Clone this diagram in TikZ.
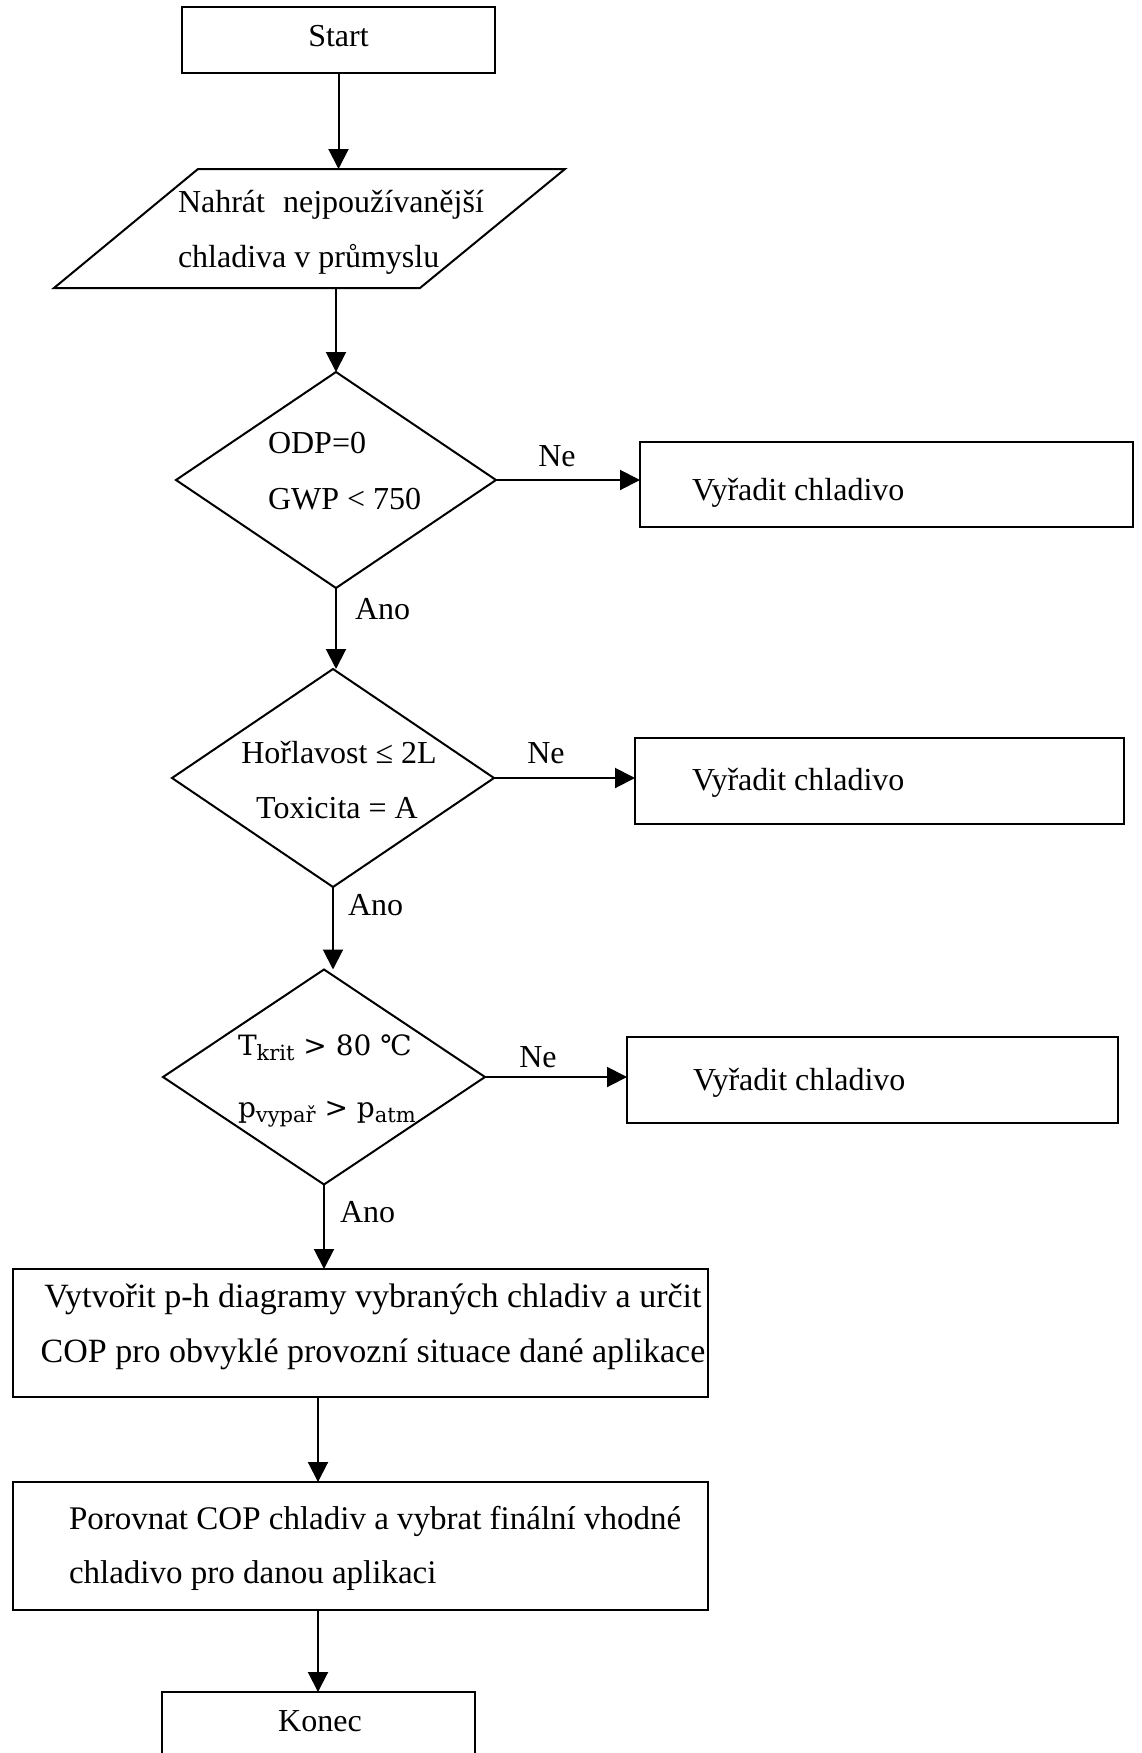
\documentclass[tikz,border=0pt]{standalone}
\usepackage{fontspec}
\setmainfont{Liberation Serif}
\newfontfamily\dvserif{DejaVu Serif}
\usetikzlibrary{shapes.geometric,arrows.meta}
\begin{document}
\begin{tikzpicture}[x=1pt,y=-1pt,
  shapebox/.style={draw, line width=2pt, inner sep=0pt, outer sep=0pt},
  decision/.style={shapebox, diamond},
  txt/.style={font=\fontsize{32}{38}\selectfont, inner sep=0pt, outer sep=0pt},
  bigtxt/.style={font=\fontsize{34}{40}\selectfont, inner sep=0pt, outer sep=0pt},
  midtxt/.style={font=\fontsize{33}{40}\selectfont, inner sep=0pt, outer sep=0pt},
  mtxt/.style={font=\dvserif\fontsize{28}{32}\selectfont, inner sep=0pt, outer sep=0pt},
  arr/.style={line width=2pt, -{Triangle[length=20pt,width=20pt]}}]
\useasboundingbox (0,0) rectangle (1142,1753);
\clip (0,0) rectangle (1142,1753);
\fill[white] (0,0) rectangle (1142,1753);

% nodes
\node[shapebox, minimum width=313pt, minimum height=66pt] (start) at (338.5,40) {};
\node[txt, anchor=base] (startt) at (338.5,47) {Start};

% input parallelogram (invisible anchor node + outline)
\node[inner sep=0pt, outer sep=0pt, minimum width=1pt, minimum height=119pt] (input) at (309.5,228.5) {};
\draw[line width=2pt, line join=miter] (54,288) -- (198,169) -- (565,169) -- (420,288) -- cycle;
\node[txt, anchor=base west] (in1) at (178,212) {Nahrát\hspace{18pt}nejpoužívanější};
\node[txt, anchor=base west] (in2) at (178,267) {chladiva v průmyslu};

\node[decision, minimum width=320pt, minimum height=216pt] (d1) at (336,480) {};
\node[txt, anchor=base west] (d1a) at (268,453) {ODP=0};
\node[txt, anchor=base west] (d1b) at (268,509) {GWP < 750};

\node[shapebox, minimum width=493pt, minimum height=85pt] (v1) at (886.5,484.5) {};
\node[txt, anchor=base west] (v1t) at (692,500) {Vyřadit chladivo};

\node[decision, minimum width=322pt, minimum height=218pt] (d2) at (333,778) {};
\node[txt, anchor=base] (d2a) at (339,763) {Hořlavost ≤ 2L};
\node[txt, anchor=base] (d2b) at (337,818) {Toxicita = A};

\node[shapebox, minimum width=489pt, minimum height=86pt] (v2) at (879.5,781) {};
\node[txt, anchor=base west] (v2t) at (692,790) {Vyřadit chladivo};

\node[decision, minimum width=322pt, minimum height=215pt] (d3) at (324,1077) {};
\node[mtxt, anchor=base west] (d3a) at (238,1055) {T\raisebox{-5pt}{\fontsize{21}{21}\selectfont krit} > 80 ℃};
\node[mtxt, anchor=base west] (d3b) at (238,1117) {p\raisebox{-5pt}{\fontsize{21}{21}\selectfont vypař} > p\raisebox{-5pt}{\fontsize{21}{21}\selectfont atm}};

\node[shapebox, minimum width=491pt, minimum height=86pt] (v3) at (872.5,1080) {};
\node[txt, anchor=base west] (v3t) at (693,1090) {Vyřadit chladivo};

\node[shapebox, minimum width=695pt, minimum height=128pt] (b4) at (360.5,1333) {};
\node[bigtxt, anchor=base] (b4a) at (373,1307) {Vytvořit p-h diagramy vybraných chladiv a určit};
\node[bigtxt, anchor=base] (b4b) at (373,1362) {COP pro obvyklé provozní situace dané aplikace};

\node[shapebox, minimum width=695pt, minimum height=128pt] (b5) at (360.5,1546) {};
\node[midtxt, anchor=base west] (b5a) at (69,1529) {Porovnat COP chladiv a vybrat finální vhodné};
\node[midtxt, anchor=base west] (b5b) at (69,1583) {chladivo pro danou aplikaci};

\node[shapebox, minimum width=313pt, minimum height=68pt] (konec) at (318,1726) {};
\node[txt, anchor=base] (konect) at (320,1731) {Konec};

% labels
\node[txt, anchor=base] (ne1) at (557,466) {Ne};
\node[txt, anchor=base west] (ano1) at (355,619) {Ano};
\node[txt, anchor=base] (ne2) at (546,763) {Ne};
\node[txt, anchor=base west] (ano2) at (348,915) {Ano};
\node[txt, anchor=base] (ne3) at (538,1067) {Ne};
\node[txt, anchor=base west] (ano3) at (340,1222) {Ano};

% connectors
\draw[arr] (start.south) -- (start.south |- input.north);
\draw[arr] (d1.north |- input.south) -- (d1.north);
\draw[arr] (d1.east) -- (d1.east -| v1.west);
\draw[arr] (d1.south) -- (d1.south |- d2.north);
\draw[arr] (d2.east) -- (d2.east -| v2.west);
\draw[arr] (d2.south) -- (d2.south |- d3.north);
\draw[arr] (d3.east) -- (d3.east -| v3.west);
\draw[arr] (d3.south) -- (d3.south |- b4.north);
\draw[arr] (konec.north |- b4.south) -- (konec.north |- b5.north);
\draw[arr] (konec.north |- b5.south) -- (konec.north);
\end{tikzpicture}
\end{document}
